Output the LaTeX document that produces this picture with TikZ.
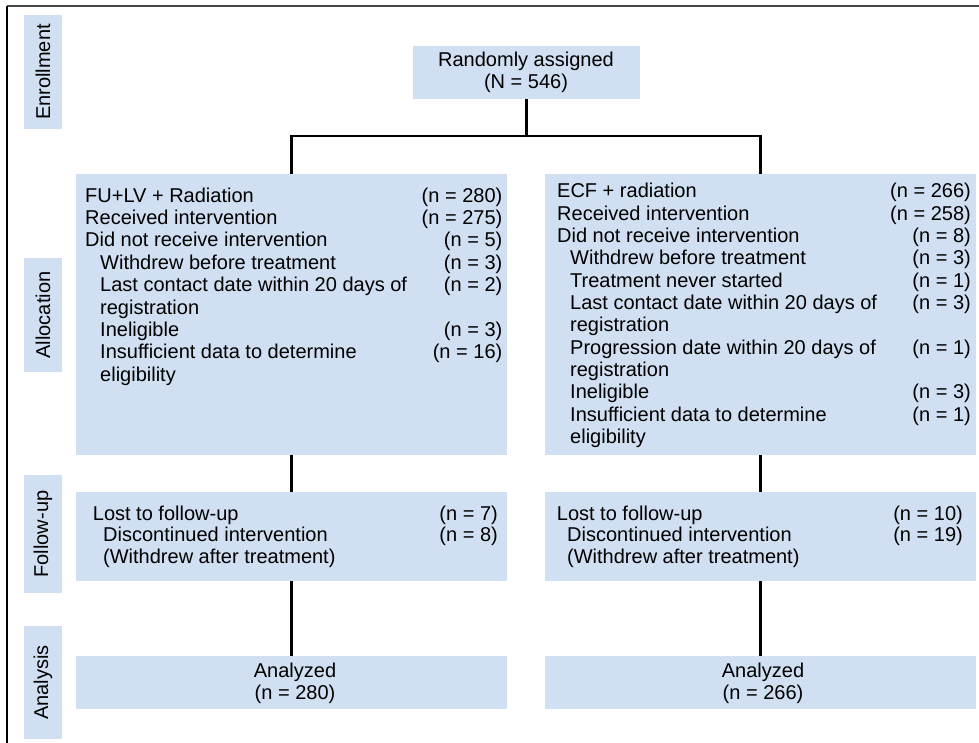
\documentclass[tikz,border=0pt]{standalone}
\usepackage{fontspec}
\setmainfont{Liberation Sans}
\definecolor{boxblue}{RGB}{208,223,241}
\definecolor{framegray}{RGB}{70,70,70}
\newcommand{\fs}{\fontsize{20}{22.35}\selectfont}
\begin{document}
\begin{tikzpicture}[x=1pt,y=-1pt,
  bx/.style={fill=boxblue, draw=none, inner sep=0, minimum width=431, anchor=center},
  side/.style={fill=boxblue, draw=none, inner sep=0, rotate=90, minimum height=38, font=\fs},
  txt/.style={anchor=base west, inner sep=0, font=\fs},
  cnt/.style={anchor=base east, inner sep=0, font=\fs},
  ctr/.style={anchor=base, inner sep=0, font=\fs},
  conn/.style={line width=2.6pt, black}]
\useasboundingbox (0,0) rectangle (979,743);
% frame
\coordinate (ftl) at (7,6);
\coordinate (ftr) at (979,6);
\coordinate (fbl) at (7,743);
\draw[framegray, line width=1.2pt] (ftl) -- (ftr);
\draw[black, line width=1.4pt] (ftl) -- (fbl);
% side labels
\node[side, minimum width=114] (senr) at (43,72) {Enrollment};
\node[side, minimum width=114] (sall) at (43,315) {Allocation};
\node[side, minimum width=118] (sfol) at (43,534) {Follow-up};
\node[side, minimum width=113] (sana) at (43,682.5) {Analysis};
% boxes
\node[bx, minimum width=227, minimum height=53] (rand) at (526.5,72.5) {};
\node[bx, minimum height=281] (lalloc) at (291.5,314.5) {};
\node[bx, minimum height=281] (ralloc) at (760.5,314.5) {};
\node[bx, minimum height=89] (lfol) at (291.5,536.5) {};
\node[bx, minimum height=89] (rfol) at (760.5,536.5) {};
\node[bx, minimum height=53] (lana) at (291.5,682.5) {};
\node[bx, minimum height=53] (rana) at (760.5,682.5) {};
% connectors
\draw[conn] (rand.south) -- ++(0,37) coordinate (split);
\draw[conn] (lalloc.north) |- (split) -| (ralloc.north);
\draw[conn] (lalloc.south) -- (lfol.north);
\draw[conn] (lfol.south) -- (lana.north);
\draw[conn] (ralloc.south) -- (rfol.north);
\draw[conn] (rfol.south) -- (rana.north);
% randomly assigned
\node[ctr] (rt1) at (526,66.7) {Randomly assigned};
\node[ctr] (rt2) at (526,88.7) {(N = 546)};
% left allocation
\node[txt] (la1) at (85,202.3) {FU+LV + Radiation};
\node[txt] (la2) at (85,224.65) {Received intervention};
\node[txt] (la3) at (85,247.0) {Did not receive intervention};
\node[txt] (la4) at (100,269.35) {Withdrew before treatment};
\node[txt] (la5) at (100,291.7) {Last contact date within 20 days of};
\node[txt] (la6) at (100,314.05) {registration};
\node[txt] (la7) at (100,336.4) {Ineligible};
\node[txt] (la8) at (100,358.75) {Insufficient data to determine};
\node[txt] (la9) at (100,381.1) {eligibility};
\node[cnt] (lc1) at (502.5,202.3) {(n = 280)};
\node[cnt] (lc2) at (502.5,224.65) {(n = 275)};
\node[cnt] (lc3) at (502.5,247.0) {(n = 5)};
\node[cnt] (lc4) at (502.5,269.35) {(n = 3)};
\node[cnt] (lc5) at (502.5,291.7) {(n = 2)};
\node[cnt] (lc7) at (502.5,336.4) {(n = 3)};
\node[cnt] (lc8) at (502.5,358.75) {(n = 16)};
% right allocation
\node[txt] (ra1) at (557,197.7) {ECF + radiation};
\node[txt] (ra2) at (557,220.05) {Received intervention};
\node[txt] (ra3) at (557,242.4) {Did not receive intervention};
\node[txt] (ra4) at (570,264.75) {Withdrew before treatment};
\node[txt] (ra5) at (570,287.1) {Treatment never started};
\node[txt] (ra6) at (570,309.45) {Last contact date within 20 days of};
\node[txt] (ra7) at (570,331.8) {registration};
\node[txt] (ra8) at (570,354.15) {Progression date within 20 days of};
\node[txt] (ra9) at (570,376.5) {registration};
\node[txt] (ra10) at (570,398.85) {Ineligible};
\node[txt] (ra11) at (570,421.2) {Insufficient data to determine};
\node[txt] (ra12) at (570,443.55) {eligibility};
\node[cnt] (rc1) at (971,197.7) {(n = 266)};
\node[cnt] (rc2) at (971,220.05) {(n = 258)};
\node[cnt] (rc3) at (971,242.4) {(n = 8)};
\node[cnt] (rc4) at (971,264.75) {(n = 3)};
\node[cnt] (rc5) at (971,287.1) {(n = 1)};
\node[cnt] (rc6) at (971,309.45) {(n = 3)};
\node[cnt] (rc8) at (971,354.15) {(n = 1)};
\node[cnt] (rc10) at (971,398.85) {(n = 3)};
\node[cnt] (rc11) at (971,421.2) {(n = 1)};
% follow-up
\node[txt] (lf1) at (92.7,520) {Lost to follow-up};
\node[txt] (lf2) at (103,541.7) {Discontinued intervention};
\node[txt] (lf3) at (103,563.7) {(Withdrew after treatment)};
\node[cnt] (lfc1) at (498,520) {(n = 7)};
\node[cnt] (lfc2) at (498,541.7) {(n = 8)};
\node[txt] (rf1) at (556.7,520) {Lost to follow-up};
\node[txt] (rf2) at (567,541.7) {Discontinued intervention};
\node[txt] (rf3) at (567,563.7) {(Withdrew after treatment)};
\node[cnt] (rfc1) at (963,520) {(n = 10)};
\node[cnt] (rfc2) at (963,541.7) {(n = 19)};
% analysis
\node[ctr] (lan1) at (295,677) {Analyzed};
\node[ctr] (lan2) at (295,699) {(n = 280)};
\node[ctr] (ran1) at (763,677) {Analyzed};
\node[ctr] (ran2) at (763,699) {(n = 266)};
\end{tikzpicture}
\end{document}
